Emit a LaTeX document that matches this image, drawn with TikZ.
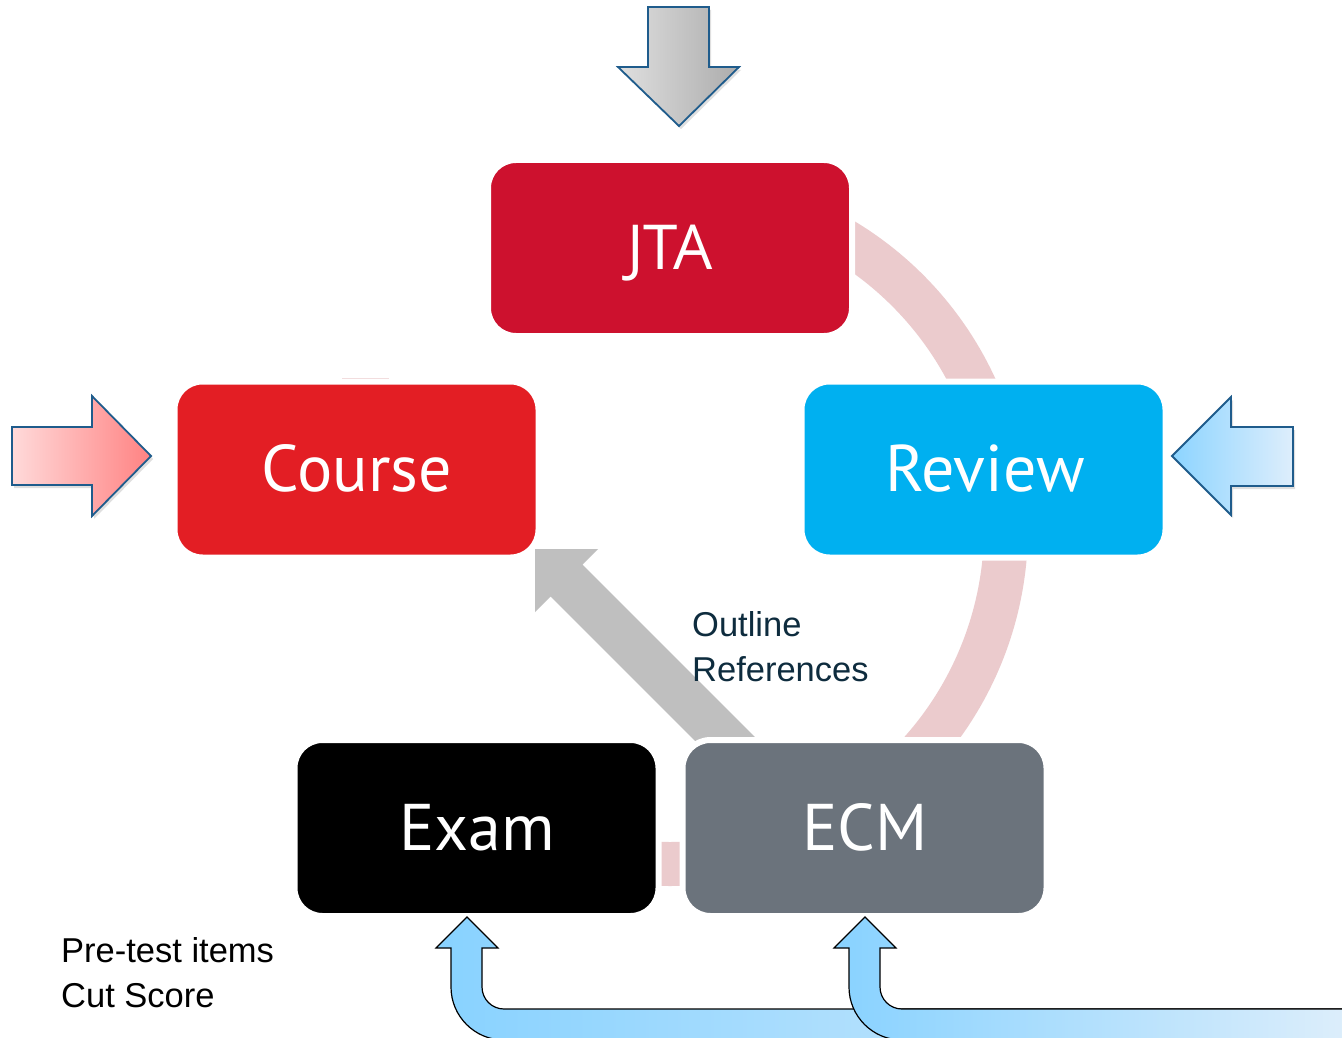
\documentclass[tikz,border=0pt]{standalone}
\usepackage{fontspec}
\setmainfont{Liberation Sans}
\newfontfamily\jtafont{Open Sans}
\newfontfamily\boxfont{PT Sans}
\usetikzlibrary{shadows}
\definecolor{jtared}{HTML}{CD112E}
\definecolor{coursered}{HTML}{E31E24}
\definecolor{reviewblue}{HTML}{00B0F0}
\definecolor{ecmgray}{HTML}{6B737C}
\definecolor{ringpink}{HTML}{EBCBCD}
\definecolor{arrowgray}{HTML}{BFBFBF}
\definecolor{edgeblue}{HTML}{1F5C8C}
\definecolor{labelnavy}{HTML}{0E2C3E}
\definecolor{bentA}{HTML}{88D2FF}
\definecolor{bentB}{HTML}{DDEEFB}
\tikzset{
  stagebox/.style={draw=white, line width=6pt, rounded corners=28pt,
    minimum width=364pt, minimum height=176pt, inner sep=0pt, text=white},
  bigtext/.style={font=\boxfont\fontsize{66}{70}\selectfont},
  ring/.style={draw=ringpink, line width=44pt},
  inarrow/.style={draw=edgeblue, line width=1.8pt, line join=miter,
    drop shadow={shadow xshift=2pt, shadow yshift=-3pt, opacity=0.25}},
  bentarrow/.style={draw=black, line width=1.2pt, left color=bentA, right color=bentB},
  smalllabel/.style={font=\fontsize{34.5}{45}\selectfont, align=left, inner sep=0pt, anchor=north west}
}
\begin{document}
\begin{tikzpicture}[x=1pt,y=-1pt]
\useasboundingbox (0,0) rectangle (1342,1038);
\fill[white] (0,0) rectangle (1342,1038);

% ring segments
\draw[ring] (670,528) ++(-62:336) arc[start angle=-62, end angle=-20, radius=336];
\draw[ring] (670,528) ++(0:336) arc[start angle=0, end angle=45, radius=336];
\draw[ring] (670,528) ++(80:336) arc[start angle=80, end angle=100, radius=336];

% faint remnants
\draw[ringpink, line width=1pt] (342,378) -- (389,378);
\draw[ringpink, line width=1pt] (374,737) -- (429,737);

% gray arrow ECM -> Course
\fill[arrowgray] (535,549) -- (598,549) -- (582.4,564.6) -- (776,758) -- (744,790)
  -- (550.6,596.4) -- (535,612) -- cycle;

% stage boxes
\node[stagebox, fill=jtared] (jta) at (670,248) {};
\node[stagebox, fill=coursered] (course) at (356.5,469.5) {};
\node[stagebox, fill=reviewblue] (review) at (983.5,469.5) {};
\node[stagebox, fill=black] (exam) at (476.5,828) {};
\node[stagebox, fill=ecmgray] (ecm) at (864.5,828) {};

\node[anchor=base, text=white, font=\jtafont\fontsize{62}{64}\selectfont, inner sep=0pt] (jtat) at (670,269) {JTA};
\node[anchor=base, text=white, bigtext, inner sep=0pt] (courset) at (357,491) {Course};
\node[anchor=base, text=white, bigtext, inner sep=0pt] (reviewt) at (985,491) {Review};
\node[anchor=base, text=white, bigtext, inner sep=0pt] (examt) at (477,850) {Exam};
\node[anchor=base, text=white, bigtext, inner sep=0pt] (ecmt) at (865,850) {ECM};

% input arrows
\path[inarrow, left color=gray!25, right color=gray!65]
  (648,7) -- (709,7) -- (709,67) -- (739,67) -- (679,126) -- (618,67) -- (648,67) -- cycle;
\path[inarrow, left color={rgb,255:red,255;green,218;blue,218}, right color={rgb,255:red,255;green,130;blue,130}]
  (12,427) -- (92,427) -- (92,396) -- (151,456) -- (92,516) -- (92,485) -- (12,485) -- cycle;
\path[inarrow, left color={rgb,255:red,140;green,212;blue,255}, right color={rgb,255:red,222;green,238;blue,252}]
  (1293,427) -- (1231,427) -- (1231,397) -- (1172,456) -- (1231,515) -- (1231,486) -- (1293,486) -- cycle;

% bent arrows from bottom
\path[bentarrow] (467,917) -- (498,948) -- (482,948) -- (482,987)
  arc[start angle=180, end angle=90, radius=22] -- (1350,1009) -- (1350,1045) -- (504,1045)
  -- (504,1040) arc[start angle=90, end angle=180, radius=53] -- (451,948) -- (436,948) -- cycle;
\path[bentarrow] (865,917) -- (896,948) -- (880,948) -- (880,987)
  arc[start angle=180, end angle=90, radius=22] -- (1350,1009) -- (1350,1045) -- (902,1045)
  -- (902,1040) arc[start angle=90, end angle=180, radius=53] -- (849,948) -- (834,948) -- cycle;

% labels
\node[smalllabel, text=labelnavy] (outline) at (692,611) {Outline\\References};
\node[smalllabel, text=black] (pretest) at (61,937) {Pre-test items\\Cut Score};
\end{tikzpicture}
\end{document}
